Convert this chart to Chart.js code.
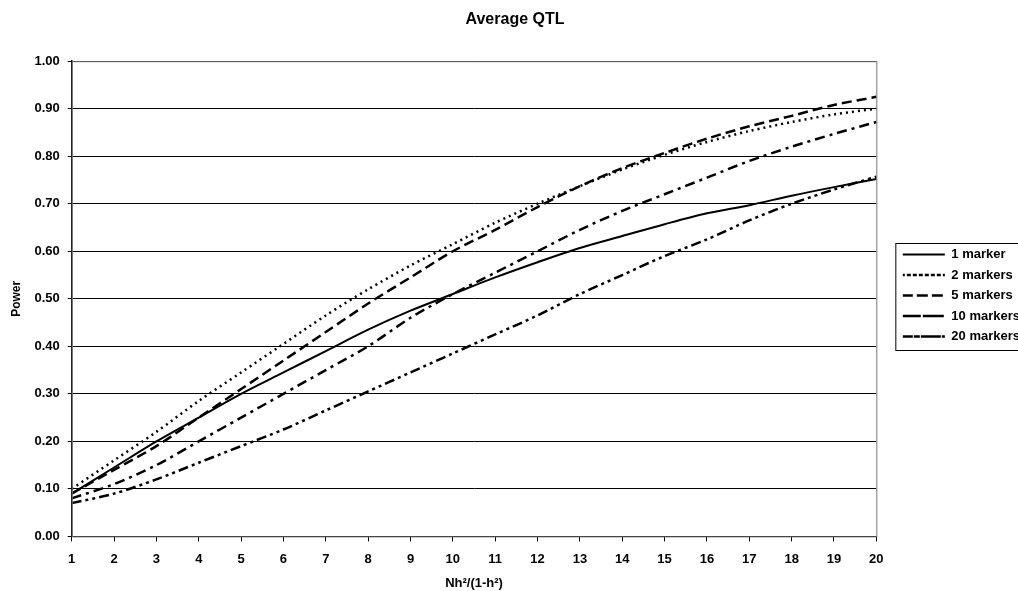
<!DOCTYPE html>
<html lang="en">
<head>
  <meta charset="UTF-8">
  <title>Average QTL</title>
  <script src="https://cdn.jsdelivr.net/npm/chart.js"></script>
  <style>
    html, body { margin: 0; padding: 0; background: #fff; overflow: hidden; }
    #wrap { position: relative; width: 1030px; height: 591px; }
  </style>
</head>
<body>
  <div id="wrap"><canvas id="powerChart"></canvas></div>

  <script>
    // x axis: Nh^2/(1-h^2)
    const xLabels = ['1','2','3','4','5','6','7','8','9','10','11','12','13','14','15','16','17','18','19','20'];

    // power
    const marker1  = [0.09, 0.145, 0.20, 0.25, 0.30, 0.345, 0.39, 0.435, 0.475, 0.51, 0.545, 0.577, 0.607, 0.632, 0.657, 0.68, 0.697, 0.717, 0.735, 0.752];
    const markers2 = [0.10, 0.16, 0.22, 0.285, 0.345, 0.405, 0.465, 0.52, 0.57, 0.615, 0.66, 0.70, 0.737, 0.772, 0.803, 0.83, 0.853, 0.872, 0.888, 0.90];
    const markers5 = [0.09, 0.14, 0.19, 0.25, 0.31, 0.37, 0.43, 0.49, 0.545, 0.60, 0.645, 0.693, 0.737, 0.775, 0.807, 0.837, 0.863, 0.885, 0.908, 0.925];
    const markers10 = [0.08, 0.11, 0.15, 0.20, 0.25, 0.30, 0.35, 0.40, 0.46, 0.51, 0.555, 0.60, 0.645, 0.685, 0.72, 0.755, 0.79, 0.82, 0.847, 0.872];
    const markers20 = [0.07, 0.09, 0.12, 0.155, 0.19, 0.225, 0.265, 0.305, 0.345, 0.385, 0.425, 0.465, 0.51, 0.55, 0.59, 0.625, 0.665, 0.70, 0.73, 0.757];

    const yTicks = [0, 0.1, 0.2, 0.3, 0.4, 0.5, 0.6, 0.7, 0.8, 0.9, 1.0];

    const FONT = "'Liberation Sans', Arial, sans-serif";

    // frame round the plot and a box round the legend
    const frames = {
      id: 'frames',
      afterDraw(chart) {
        const { ctx, chartArea: a, legend } = chart;
        ctx.save();
        ctx.strokeStyle = '#777';
        ctx.lineWidth = 1;
        ctx.strokeRect(a.left + 0.5, a.top + 0.5, a.right - a.left, a.bottom - a.top);
        if (legend && legend.legendHitBoxes.length) {
          const hb = legend.legendHitBoxes;
          const last = hb[hb.length - 1];
          const y0 = hb[0].top - 5;
          const y1 = last.top + last.height + 7;
          ctx.strokeStyle = '#000';
          ctx.strokeRect(legend.left + 0.5, y0 + 0.5, 200, y1 - y0);
        }
        ctx.restore();
      }
    };

    function series(label, data, dash, width) {
      return {
        label, data,
        borderColor: '#000', backgroundColor: 'rgba(0,0,0,0)',
        borderWidth: width, borderDash: dash,
        pointRadius: 0, tension: 0.3, fill: false
      };
    }

    new Chart(document.getElementById('powerChart'), {
      type: 'line',
      data: {
        labels: xLabels,
        datasets: [
          series('1 marker', marker1, [], 2),
          series('2 markers', markers2, [2, 4], 2.5),
          series('5 markers', markers5, [10, 5], 2.5),
          series('10 markers', markers10, [10, 5, 3, 5], 2.5),
          series('20 markers', markers20, [10, 4, 3, 4, 3, 4], 2.5)
        ]
      },
      options: {
        responsive: true,
        maintainAspectRatio: false,
        animation: false,
        layout: { padding: { left: 0, right: 0, top: 0, bottom: 0 } },
        plugins: {
          title: {
            display: true, text: 'Average QTL', color: '#000',
            font: { family: FONT, size: 16, weight: 'bold' },
            padding: { top: 10, bottom: 32 }
          },
          legend: {
            position: 'right',
            labels: {
              color: '#000',
              font: { family: FONT, size: 13, weight: 'bold' },
              boxWidth: 42, boxHeight: 0, padding: 7.5
            }
          },
          tooltip: { enabled: false }
        },
        scales: {
          x: {
            type: 'category',
            offset: false,
            grid: { drawOnChartArea: false, drawTicks: true, tickLength: 5, color: '#000' },
            border: { color: '#000', width: 1 },
            ticks: { color: '#000', font: { family: FONT, size: 13, weight: 'bold' }, padding: 10, maxRotation: 0 },
            title: {
              display: true, text: 'Nh²/(1-h²)', color: '#000',
              font: { family: FONT, size: 13, weight: 'bold', lineHeight: 1 }, padding: { top: 0, bottom: 1 }
            }
          },
          y: {
            min: 0, max: 1,
            afterBuildTicks(axis) { axis.ticks = yTicks.map(v => ({ value: v })); },
            grid: { color: '#000', lineWidth: 1, drawTicks: true, tickLength: 4 },
            border: { color: '#000', width: 1.5 },
            ticks: {
              color: '#000', font: { family: FONT, size: 13, weight: 'bold' }, padding: 8,
              callback: v => Number(v).toFixed(2)
            },
            title: {
              display: true, text: 'Power', color: '#000',
              font: { family: FONT, size: 12, weight: 'bold' }, padding: { top: 9, bottom: 3 }
            }
          },
          // empty strip between the plot and the legend
          gap: {
            position: 'right',
            display: true,
            grid: { display: false },
            border: { display: false },
            ticks: { display: false },
            afterFit(axis) { axis.width = 19; }
          }
        }
      },
      plugins: [frames]
    });
  </script>
</body>
</html>
